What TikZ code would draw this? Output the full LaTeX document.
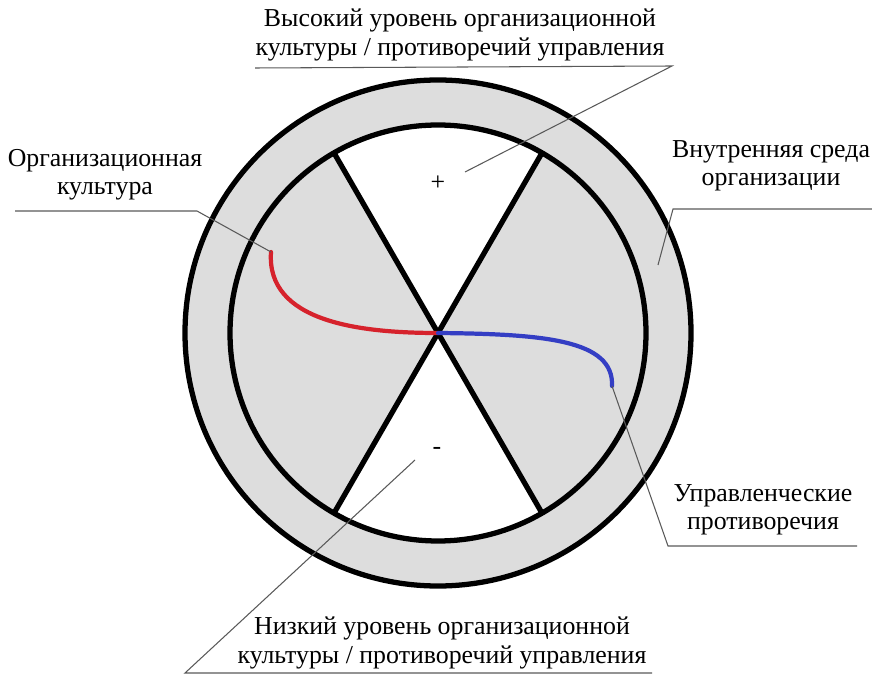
\documentclass[tikz,border=0pt]{standalone}
\usepackage{fontspec}
\setmainfont{Liberation Serif}
\usetikzlibrary{positioning}
\usetikzlibrary{calc}

\definecolor{ringgray}{RGB}{221,221,221}
\definecolor{culred}{RGB}{214,34,44}
\definecolor{conblue}{RGB}{52,62,196}

\begin{document}
\begin{tikzpicture}[x=0.02cm, y=-0.02cm,
    every node/.style={font=\fontsize{14.7}{16.2}\selectfont, align=center, inner sep=0pt},
    thick line/.style={line width=3pt},
    leader/.style={draw=black!65, line width=0.6pt},
    culture/.style={draw=culred, line width=2.4pt, line cap=round},
    conflict/.style={draw=conblue, line width=2.4pt, line cap=round}]

        % Frame of the picture
        \useasboundingbox (0,0) rectangle (872,675);

        % Centre and radii
        \coordinate (c) at (438,333);
        \def\rout{253}
        \def\rin{208}

        % Ring and grey sectors
        \fill[ringgray] (c) circle [radius=\rout];
        \fill[white] (c) circle [radius=\rin];
        \fill[ringgray] (c) -- ($(c)+(-60:\rin)$) arc (-60:60:\rin) -- cycle;
        \fill[ringgray] (c) -- ($(c)+(120:\rin)$) arc (120:240:\rin) -- cycle;

        % Circles and the cross
        \draw[thick line] (c) circle [radius=\rout];
        \draw[thick line] (c) circle [radius=\rin];
        \foreach \a in {60,120} {
          \draw[thick line] ($(c)+(\a:\rin)$) -- ($(c)+(\a+180:\rin)$);
        }

        % Signs of the two white sectors
        \node (plus) at (438,183) {+};
        \node (minus) at (437,451) {-};

        % Ends of the two curves
        \coordinate (cul) at (271,252);
        \coordinate (con) at (612,386);
        \draw[culture] (cul) .. controls (266,322) and (360,333) .. (c);
        \draw[conflict] (c) .. controls (545,334) and (614,340) .. (con);

        % Captions
        \node (high) at (460,35) {Высокий уровень организационной\\культуры / противоречий управления};
        \node (org) at (105,175) {Организационная\\культура};
        \node (env) at (771,166) {Внутренняя среда\\организации};
        \node (mgmt) at (763,510) {Управленческие\\противоречия};
        \node (low) at (442,643) {Низкий уровень организационной\\культуры / противоречий управления};

        % Underlines of the captions
        \coordinate (highL) at (255,68);
        \coordinate (highR) at (672,66);
        \coordinate (orgL) at (15,211);
        \coordinate (orgR) at (197,211);
        \coordinate (envL) at (673,209);
        \coordinate (envR) at (872,209);
        \coordinate (mgmtL) at (668,546);
        \coordinate (mgmtR) at (857,546);
        \coordinate (lowL) at (185,673);
        \coordinate (lowR) at (652,673);

        % Tips of the leaders
        \coordinate (ringtip) at (658,265);
        \coordinate (plustip) at (465,172);
        \coordinate (minustip) at (415,460);

        % Leaders
        \draw[leader] (highL) -- (highR) -- (plustip);
        \draw[leader] (orgL) -- (orgR) -- (cul);
        \draw[leader] (envR) -- (envL) -- (ringtip);
        \draw[leader] (mgmtR) -- (mgmtL) -- (con);
        \draw[leader] (lowR) -- (lowL) -- (minustip);

      \end{tikzpicture}
\end{document}
